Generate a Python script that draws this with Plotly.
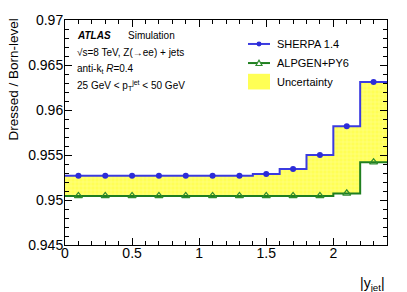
import plotly.graph_objects as go

# ---- data ----
bin_edges = [0.0, 0.2, 0.4, 0.6, 0.8, 1.0, 1.2, 1.4, 1.6, 1.8, 2.0, 2.2, 2.4]
bin_centers = [0.1, 0.3, 0.5, 0.7, 0.9, 1.1, 1.3, 1.5, 1.7, 1.9, 2.1, 2.3]
sherpa = [0.9527, 0.9527, 0.9527, 0.9527, 0.9527, 0.9527, 0.9527,
          0.9529, 0.95345, 0.9550, 0.9582, 0.9631]
alpgen = [0.95045, 0.95045, 0.95045, 0.95045, 0.95045, 0.95045, 0.95045,
          0.95045, 0.95045, 0.95045, 0.95073, 0.9542]
x_ticks = [0, 0.5, 1, 1.5, 2]
y_ticks = [0.945, 0.95, 0.955, 0.96, 0.965, 0.97]

BLUE = "#3b3be0"
GREEN = "#1f7f1f"
YELLOW = "#ffff55"
FONT = "Liberation Sans, Arial, sans-serif"

sherpa_step = sherpa + [sherpa[-1]]
alpgen_step = alpgen + [alpgen[-1]]

fig = go.Figure()
# uncertainty band
fig.add_trace(go.Scatter(x=bin_edges, y=alpgen_step, mode="lines", line_shape="hv",
                         line=dict(width=0, color=GREEN), showlegend=False, hoverinfo="skip"))
fig.add_trace(go.Scatter(x=bin_edges, y=sherpa_step, mode="lines", line_shape="hv",
                         line=dict(width=0, color=BLUE), fill="tonexty", fillcolor=YELLOW,
                         fillpattern=dict(shape="+", bgcolor=YELLOW, fgcolor="#ffffb0",
                                          size=4, solidity=0.3),
                         showlegend=False, hoverinfo="skip"))
# histogram lines
fig.add_trace(go.Scatter(x=bin_edges, y=alpgen_step, mode="lines", line_shape="hv",
                         line=dict(width=2, color=GREEN), showlegend=False))
fig.add_trace(go.Scatter(x=bin_edges, y=sherpa_step, mode="lines", line_shape="hv",
                         line=dict(width=2, color=BLUE), showlegend=False))
# markers
fig.add_trace(go.Scatter(x=bin_centers, y=alpgen, mode="markers",
                         marker=dict(symbol="triangle-up-open", size=7,
                                     line=dict(width=1.3, color="#2e8b2e"), color="#2e8b2e"),
                         showlegend=False))
fig.add_trace(go.Scatter(x=bin_centers, y=sherpa, mode="markers",
                         marker=dict(symbol="circle", size=6, color="#2c2cd8"),
                         showlegend=False))

axis_common = dict(showline=True, linecolor="black", linewidth=1, mirror="ticks",
                   ticks="inside", ticklen=7, tickcolor="black", showgrid=False,
                   zeroline=False, tickfont=dict(family=FONT, size=14, color="black"))
fig.update_xaxes(range=[0, 2.4], tickvals=x_ticks, ticklabelstandoff=-5,
                 minor=dict(ticks="inside", ticklen=4, dtick=0.1, tick0=0, tickcolor="black"),
                 **axis_common)
fig.update_yaxes(range=[0.945, 0.97], tickvals=y_ticks, ticklabelstandoff=-2,
                 minor=dict(ticks="inside", ticklen=4, dtick=0.001, tick0=0.945, tickcolor="black"),
                 **axis_common)

# plot area in pixels: x 65..387, y 15..245
def px(xp):
    return (xp - 65) / 322.0

def py(yp):
    return (245 - yp) / 230.0

ann = []
def text(s, xp, yp, size, xanchor="left", yanchor="middle", **kw):
    ann.append(dict(text=s, x=px(xp), y=py(yp), xref="paper", yref="paper",
                    xanchor=xanchor, yanchor=yanchor, showarrow=False,
                    font=dict(family=FONT, size=size, color="black"), **kw))

text("<b><i>ATLAS</i></b>", 75, 31, 10)
text("Simulation", 126, 31, 10)
text("√s=8 TeV, Z(→ee) + jets", 75, 48, 10)
text("anti-k<sub>t</sub> <i>R</i>=0.4", 75, 65.5, 10)
text("25 GeV &lt; p<sub>T</sub><sup>jet</sup> &lt; 50 GeV", 75, 82, 10)

# legend
text("SHERPA 1.4", 275, 39.5, 11)
text("ALPGEN+PY6", 275, 59, 11)
text("Uncertainty", 275, 78, 11)

# axis titles
ann.append(dict(text="Dressed / Born-level", x=px(4), y=py(12), xref="paper", yref="paper",
                xanchor="left", yanchor="top", textangle=-90, showarrow=False,
                font=dict(family=FONT, size=13.5, color="black")))
ann.append(dict(text="|y<sub>jet</sub>|", x=1.0, y=py(274), xref="paper", yref="paper",
                xanchor="right", yanchor="top", showarrow=False,
                font=dict(family=FONT, size=14, color="black")))

shapes = [
    dict(type="line", xref="paper", yref="paper", x0=px(248), x1=px(270), y0=py(39.5), y1=py(39.5),
         line=dict(color=BLUE, width=2)),
    dict(type="circle", xref="paper", yref="paper", x0=px(256.5), x1=px(261.5),
         y0=py(42), y1=py(37), fillcolor="#2c2cd8", line=dict(width=0)),
    dict(type="line", xref="paper", yref="paper", x0=px(248), x1=px(270), y0=py(59), y1=py(59),
         line=dict(color=GREEN, width=2)),
    dict(type="path", xref="paper", yref="paper",
         path=f"M {px(256)} {py(61.5)} L {px(262)} {py(61.5)} L {px(259)} {py(56)} Z",
         fillcolor="white", line=dict(color="#2e8b2e", width=1.2)),
    dict(type="rect", xref="paper", yref="paper", x0=px(248), x1=px(270), y0=py(86), y1=py(70),
         fillcolor=YELLOW, line=dict(width=0)),
]

fig.update_layout(width=407, height=292, margin=dict(l=65, r=20, t=15, b=47),
                  paper_bgcolor="white", plot_bgcolor="white",
                  annotations=ann, shapes=shapes, showlegend=False)

fig.write_html("out.html", config={"displayModeBar": False},
               post_script="document.body.style.margin='0';document.body.style.padding='0';")
